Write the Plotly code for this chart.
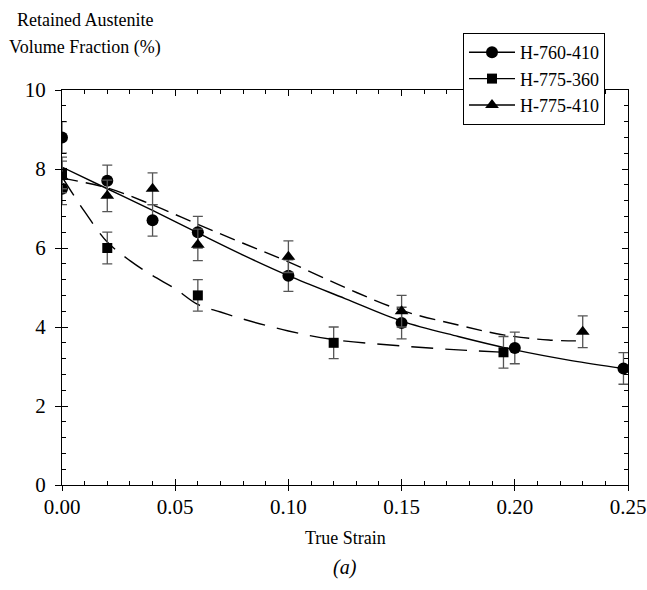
import plotly.graph_objects as go

# ---------------- data ----------------
# H-760-410 (circles)
h760_x = [0.0, 0.0, 0.02, 0.04, 0.06, 0.10, 0.15, 0.20, 0.248]
h760_y = [8.8, 7.5, 7.7, 6.7, 6.4, 5.3, 4.1, 3.47, 2.95]
h760_err = [0.4, 0.4, 0.4, 0.4, 0.4, 0.4, 0.4, 0.4, 0.4]
# H-775-360 (squares)
h360_x = [0.0, 0.02, 0.06, 0.12, 0.195]
h360_y = [7.9, 6.0, 4.8, 3.6, 3.36]
h360_err = [0.4, 0.4, 0.4, 0.4, 0.4]
# H-775-410 (triangles)
h410_x = [0.0, 0.02, 0.04, 0.06, 0.10, 0.15, 0.23]
h410_y = [7.8, 7.32, 7.5, 6.08, 5.78, 4.4, 3.88]
h410_err = [0.4, 0.4, 0.4, 0.4, 0.4, 0.4, 0.4]

# fitted curves
fit760_x = [0.0, 0.02, 0.04, 0.06, 0.08, 0.10, 0.125, 0.15, 0.175, 0.20, 0.225, 0.248]
fit760_y = [8.05, 7.5, 6.95, 6.38, 5.82, 5.3, 4.72, 4.15, 3.76, 3.42, 3.15, 2.95]
fit360_x = [0.0, 0.005, 0.01, 0.02, 0.03, 0.04, 0.05, 0.06, 0.07, 0.08, 0.10, 0.12, 0.15, 0.175, 0.195]
fit360_y = [7.8, 7.35, 6.92, 6.15, 5.68, 5.3, 4.97, 4.57, 4.38, 4.2, 3.9, 3.68, 3.52, 3.42, 3.36]
fit410_x = [0.0, 0.02, 0.04, 0.06, 0.08, 0.10, 0.125, 0.15, 0.175, 0.195, 0.215, 0.227]
fit410_y = [7.77, 7.52, 7.09, 6.6, 6.12, 5.65, 5.0, 4.42, 4.05, 3.8, 3.67, 3.65]

series_names = ["H-760-410", "H-775-360", "H-775-410"]
x_tick_vals = [0.0, 0.05, 0.10, 0.15, 0.20, 0.25]
x_tick_text = ["0.00", "0.05", "0.10", "0.15", "0.20", "0.25"]
y_tick_vals = [0, 2, 4, 6, 8, 10]
y_tick_text = ["0", "2", "4", "6", "8", "10"]

# ---------------- figure ----------------
W, H = 647, 590
L, R, T, B = 62, 19, 90, 105
PW, PH = W - L - R, H - T - B
FONT = "Liberation Serif, Times New Roman, serif"


def px_to_paper_x(px):
    return (px - L) / PW


def px_to_paper_y(py):
    return (H - B - py) / PH


fig = go.Figure()

line_w = 1.4
fig.add_trace(go.Scatter(x=fit760_x, y=fit760_y, mode="lines", line=dict(color="black", width=line_w, shape="spline"),
                         showlegend=False, hoverinfo="skip"))
fig.add_trace(go.Scatter(x=fit360_x, y=fit360_y, mode="lines",
                         line=dict(color="black", width=line_w, shape="spline", dash="22px,12px"),
                         showlegend=False, hoverinfo="skip"))
fig.add_trace(go.Scatter(x=fit410_x, y=fit410_y, mode="lines",
                         line=dict(color="black", width=line_w, shape="spline", dash="16px,8px"),
                         showlegend=False, hoverinfo="skip"))

err_style = dict(type="data", color="#555555", thickness=1.3, width=5)
markers = [
    (h760_x, h760_y, h760_err, "circle", 12),
    (h360_x, h360_y, h360_err, "square", 10),
    (h410_x, h410_y, h410_err, "triangle-up", 12),
]
for (xs, ys, es, sym, sz), name in zip(markers, series_names):
    fig.add_trace(go.Scatter(x=xs, y=ys, mode="markers", name=name,
                             marker=dict(symbol=sym, size=sz, color="black"),
                             error_y=dict(array=es, **err_style), showlegend=False))

# legend entries
for (xs, ys, es, sym, sz), name in zip(markers, series_names):
    fig.add_trace(go.Scatter(x=[None], y=[None], mode="lines+markers", name=name,
                             marker=dict(symbol=sym, size=sz, color="black"),
                             line=dict(color="black", width=line_w)))

# invisible trace for the overlay axes (inside ticks, mirrored)
fig.add_trace(go.Scatter(x=[None], y=[None], xaxis="x2", yaxis="y2", showlegend=False, hoverinfo="skip"))

axis_font = dict(family=FONT, size=21, color="black")
fig.update_layout(
    width=W, height=H,
    margin=dict(l=L, r=R, t=T, b=B, autoexpand=False),
    paper_bgcolor="white", plot_bgcolor="white",
    font=dict(family=FONT, color="black"),
    xaxis=dict(range=[0, 0.25], tickvals=x_tick_vals, ticktext=x_tick_text,
               ticks="outside", ticklen=5, tickwidth=1, tickcolor="black",
               showline=True, linecolor="black", linewidth=1.2, mirror=True,
               showgrid=False, zeroline=False, tickfont=axis_font, ticklabelstandoff=-2,
               ticklabeloverflow="allow"),
    yaxis=dict(range=[0, 10], tickvals=y_tick_vals, ticktext=y_tick_text,
               ticks="outside", ticklen=6, tickwidth=1, tickcolor="black",
               showline=True, linecolor="black", linewidth=1.2, mirror=True,
               showgrid=False, zeroline=False, tickfont=axis_font, ticklabelstandoff=5,
               ticklabeloverflow="allow"),
    xaxis2=dict(range=[0, 0.25], overlaying="x", side="bottom", tickvals=x_tick_vals,
                ticks="inside", ticklen=6, tickwidth=1, tickcolor="black", mirror="ticks",
                showticklabels=False, showgrid=False, zeroline=False, showline=False,
                minor=dict(ticks="inside", dtick=0.01, ticklen=4, tickwidth=1, tickcolor="black", showgrid=False)),
    yaxis2=dict(range=[0, 10], overlaying="y", side="left", tickvals=y_tick_vals,
                ticks="inside", ticklen=6, tickwidth=1, tickcolor="black", mirror="ticks",
                showticklabels=False, showgrid=False, zeroline=False, showline=False,
                minor=dict(ticks="inside", dtick=0.4, ticklen=4, tickwidth=1, tickcolor="black", showgrid=False)),
    legend=dict(x=px_to_paper_x(463), y=px_to_paper_y(33), xanchor="left", yanchor="top",
                bordercolor="black", borderwidth=1, bgcolor="white",
                font=dict(family=FONT, size=18, color="black"), tracegroupgap=0, itemwidth=46),
    annotations=[
        dict(text="Retained Austenite", x=px_to_paper_x(85), y=px_to_paper_y(20), xref="paper", yref="paper",
             showarrow=False, xanchor="center", yanchor="middle", font=dict(family=FONT, size=18, color="black")),
        dict(text="Volume Fraction (%)", x=px_to_paper_x(85), y=px_to_paper_y(47), xref="paper", yref="paper",
             showarrow=False, xanchor="center", yanchor="middle", font=dict(family=FONT, size=18, color="black")),
        dict(text="True Strain", x=0.5, y=px_to_paper_y(538), xref="paper", yref="paper",
             showarrow=False, xanchor="center", yanchor="middle", font=dict(family=FONT, size=18, color="black")),
        dict(text="<i>(a)</i>", x=0.5, y=px_to_paper_y(567), xref="paper", yref="paper",
             showarrow=False, xanchor="center", yanchor="middle", font=dict(family=FONT, size=20, color="black")),
    ],
)

fig.write_html("out.html", config={"displayModeBar": False},
               post_script="document.body.style.margin='0px';")
